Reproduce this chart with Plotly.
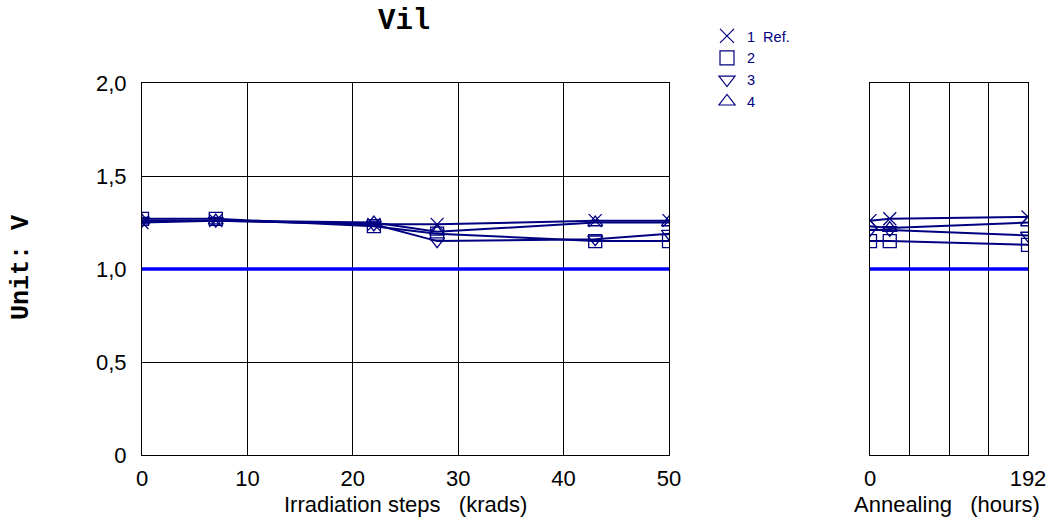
import plotly.graph_objects as go

# ---- data ----
irr_steps = [0, 7, 22, 28, 43, 50]          # krads
ann_steps = [0, 24, 192]                    # hours

series_names = ["1\u00a0\u00a0Ref.", "2", "3", "4"]
series_symbols = ["x-thin-open", "square-open", "triangle-down-open", "triangle-up-open"]

irr_s1 = [1.25, 1.26, 1.24, 1.24, 1.26, 1.26]
irr_s2 = [1.27, 1.27, 1.23, 1.19, 1.15, 1.15]
irr_s3 = [1.26, 1.26, 1.24, 1.15, 1.16, 1.19]
irr_s4 = [1.26, 1.26, 1.25, 1.20, 1.25, 1.25]

ann_s1 = [1.26, 1.27, 1.28]
ann_s2 = [1.15, 1.15, 1.13]
ann_s3 = [1.21, 1.21, 1.18]
ann_s4 = [1.23, 1.22, 1.25]

limit_level = 1.0

y_tickvals = [0, 0.5, 1.0, 1.5, 2.0]
y_ticktext = ["0", "0,5", "1,0", "1,5", "2,0"]
x_tickvals = [0, 10, 20, 30, 40, 50]
x2_tickvals = [0, 48, 96, 144, 192]
x2_ticktext = ["0", "", "", "", "192"]

# ---- style ----
NAVY = "#000080"
W, H = 1061, 524
tick_font = dict(family="Liberation Sans, Arial", size=22, color="black")

fig = go.Figure()

irr_all = [irr_s1, irr_s2, irr_s3, irr_s4]
ann_all = [ann_s1, ann_s2, ann_s3, ann_s4]

# limit line
fig.add_trace(go.Scatter(x=[irr_steps[0], irr_steps[-1]], y=[limit_level, limit_level],
                         mode="lines", line=dict(color="#0000ff", width=3.5),
                         showlegend=False, xaxis="x", yaxis="y", hoverinfo="skip"))
fig.add_trace(go.Scatter(x=[ann_steps[0], ann_steps[-1]], y=[limit_level, limit_level],
                         mode="lines", line=dict(color="#0000ff", width=3.5),
                         showlegend=False, xaxis="x2", yaxis="y2", hoverinfo="skip"))

for ys, sym in zip(irr_all, series_symbols):
    fig.add_trace(go.Scatter(x=irr_steps, y=ys, mode="lines+markers",
                             line=dict(color=NAVY, width=2),
                             marker=dict(symbol=sym, size=13, color=NAVY,
                                         line=dict(color=NAVY, width=1.3)),
                             showlegend=False, xaxis="x", yaxis="y"))
for ys, sym in zip(ann_all, series_symbols):
    fig.add_trace(go.Scatter(x=ann_steps, y=ys, mode="lines+markers",
                             line=dict(color=NAVY, width=2),
                             marker=dict(symbol=sym, size=13, color=NAVY,
                                         line=dict(color=NAVY, width=1.3)),
                             showlegend=False, xaxis="x2", yaxis="y2"))

# legend entries
for name, sym in zip(series_names, series_symbols):
    fig.add_trace(go.Scatter(x=[None], y=[None], mode="markers", name=name,
                             marker=dict(symbol=sym, size=14, color=NAVY,
                                         line=dict(color=NAVY, width=1.2)),
                             showlegend=True, xaxis="x", yaxis="y"))

left_dom = [142 / W, 669 / W]
right_dom = [870 / W, 1028 / W]
y_dom = [1 - 455 / H, 1 - 83 / H]

common_axis = dict(showline=True, linecolor="black", linewidth=1, mirror=True,
                   zeroline=False, ticks="", tickfont=tick_font, automargin=False)

fig.update_layout(
    width=W, height=H,
    margin=dict(l=0, r=0, t=0, b=0, autoexpand=False),
    paper_bgcolor="white", plot_bgcolor="white",
    showlegend=True,
    legend=dict(x=707 / W, y=1 - 20 / H, xanchor="left", yanchor="top",
                bgcolor="rgba(0,0,0,0)",
                font=dict(family="Liberation Sans, Arial", size=14.5, color=NAVY),
                itemclick=False),
    xaxis=dict(domain=left_dom, range=[0, 50], tickvals=x_tickvals,
               showgrid=True, gridcolor="black", gridwidth=1,
               ticklabelstandoff=4, anchor="y", **common_axis),
    yaxis=dict(domain=y_dom, range=[0, 2], tickvals=y_tickvals, ticktext=y_ticktext,
               showgrid=True, gridcolor="black", gridwidth=1,
               ticklabelstandoff=10, anchor="x", **common_axis),
    xaxis2=dict(domain=right_dom, range=[0, 192], tickvals=x2_tickvals, ticktext=x2_ticktext,
                showgrid=True, gridcolor="black", gridwidth=1,
                ticklabelstandoff=4, anchor="y2", **common_axis),
    yaxis2=dict(domain=y_dom, range=[0, 2], tickvals=y_tickvals, showticklabels=False,
                showgrid=False, anchor="x2", **common_axis),
    annotations=[
        dict(text="<b>Vil</b>", x=404 / W, y=1 - 21 / H, xref="paper", yref="paper",
             showarrow=False, xanchor="center", yanchor="middle",
             font=dict(family="Liberation Mono, Courier New", size=29, color="black")),
        dict(text="<b>Unit: V</b>", x=21 / W, y=1 - 268 / H, xref="paper", yref="paper",
             showarrow=False, xanchor="center", yanchor="middle", textangle=-90,
             font=dict(family="Liberation Mono, Courier New", size=25, color="black")),
        dict(text="Irradiation steps\u00a0\u00a0\u00a0(krads)", x=405 / W, y=1 - 504 / H,
             xref="paper", yref="paper", showarrow=False, xanchor="center", yanchor="middle",
             font=dict(family="Liberation Sans, Arial", size=22, color="black")),
        dict(text="Annealing\u00a0\u00a0\u00a0(hours)", x=947 / W, y=1 - 504 / H,
             xref="paper", yref="paper", showarrow=False, xanchor="center", yanchor="middle",
             font=dict(family="Liberation Sans, Arial", size=22, color="black")),
    ],
)

fig.write_html("out.html")
